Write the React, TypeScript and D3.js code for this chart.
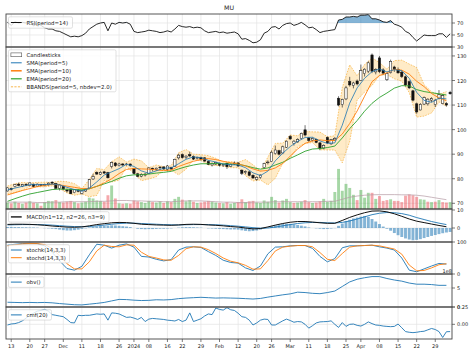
import React from "react";
import * as d3 from "d3";

// ---------------- data ----------------
const tickIdx = [1, 6, 10, 15, 20, 25, 30, 34, 38, 43, 47, 52, 57, 62, 67, 71, 76, 81, 86, 91, 95, 100, 105, 110, 115];
const tickLbl = ["13", "20", "27", "Dec", "11", "18", "26", "2024", "08", "16", "22", "29", "Feb", "12", "20", "26", "Mar", "11", "18", "25", "Apr", "08", "15", "22", "29"];

const opens = [75.0, 76.0, 76.8, 77.8, 77.0, 77.7, 77.2, 77.8, 77.0, 77.6, 77.2, 77.5, 78.6, 78.0, 76.0, 76.8, 75.4, 75.6, 74.3, 75.2,
  74.0, 75.0, 76.2, 79.9, 82.6, 81.8, 82.8, 82.5, 85.0, 86.4, 85.3, 86.0, 85.7, 86.0, 84.2, 82.0, 81.0, 81.5, 82.2, 84.3,
  83.8, 84.5, 84.8, 83.8, 84.5, 85.0, 88.5, 89.8, 88.6, 89.8, 89.0, 88.2, 88.6, 88.5, 87.0, 85.6, 86.0, 86.2, 85.3, 86.3,
  85.0, 86.0, 86.4, 83.5, 82.5, 82.8, 81.4, 79.8, 80.5, 84.5, 86.5, 87.0, 90.2, 91.4, 90.5, 92.8, 97.2, 94.3, 95.0, 96.3,
  99.9, 96.6, 95.7, 96.0, 94.6, 92.5, 96.8, 94.2, 95.8, 112.8, 110.2, 112.5, 119.6, 118.0, 119.8, 120.0, 122.8, 123.8, 130.4, 123.5,
  129.2, 124.3, 120.3, 123.2, 125.5, 124.4, 123.4, 121.5, 119.5, 115.8, 110.5, 108.0, 110.4, 110.5, 112.0, 110.2, 112.8, 110.6, 110.6, 115.2];
const highs = [76.5, 76.4, 77.9, 78.4, 77.9, 78.2, 78.5, 78.0, 78.1, 77.9, 78.0, 78.6, 79.0, 78.2, 77.8, 77.0, 76.0, 75.9, 75.8, 75.8,
  75.3, 76.0, 79.9, 82.0, 83.0, 83.0, 83.2, 82.8, 87.0, 86.8, 86.5, 86.4, 86.4, 86.2, 84.4, 82.4, 82.2, 82.3, 84.6, 84.5,
  84.6, 85.2, 85.0, 85.6, 84.9, 88.2, 90.2, 90.3, 89.6, 91.0, 89.5, 89.0, 89.0, 88.8, 87.5, 86.6, 86.9, 86.5, 86.0, 86.6,
  86.2, 87.0, 86.8, 83.8, 83.4, 83.0, 81.8, 81.0, 81.8, 86.5, 87.5, 91.5, 93.5, 91.8, 93.5, 95.6, 97.8, 95.8, 96.5, 98.8,
  101.8, 97.0, 96.8, 96.3, 94.9, 94.0, 97.2, 96.2, 97.0, 113.6, 112.6, 117.8, 121.5, 119.5, 120.4, 126.5, 125.0, 127.8, 131.0, 125.0,
  130.0, 125.0, 123.2, 128.5, 126.0, 125.3, 124.2, 122.0, 120.0, 116.2, 111.0, 110.8, 113.5, 112.8, 113.2, 112.5, 116.1, 114.5, 111.2, 115.8];
const lows = [74.8, 75.2, 76.5, 77.0, 76.6, 77.0, 77.0, 76.6, 76.8, 77.0, 76.9, 77.2, 77.9, 75.9, 75.2, 75.3, 74.4, 73.7, 74.1, 74.5,
  73.6, 74.6, 76.0, 79.5, 81.6, 81.5, 82.0, 80.1, 84.2, 84.8, 85.0, 85.2, 85.3, 84.8, 81.8, 80.6, 80.6, 80.9, 82.0, 83.0,
  83.2, 83.6, 83.6, 83.0, 83.4, 84.8, 87.8, 88.2, 88.0, 88.8, 87.6, 87.8, 87.4, 86.9, 85.6, 85.0, 85.5, 85.0, 84.8, 84.0,
  84.8, 85.6, 84.8, 81.5, 81.8, 81.0, 80.0, 79.2, 80.0, 84.0, 85.8, 86.8, 89.8, 89.5, 90.0, 92.5, 95.8, 93.5, 94.6, 96.0,
  97.2, 95.0, 95.2, 94.5, 91.6, 92.0, 94.2, 93.8, 95.4, 109.5, 109.0, 112.0, 117.5, 116.8, 118.0, 119.8, 121.6, 123.0, 123.0, 122.5,
  123.0, 122.2, 119.8, 122.8, 123.5, 122.8, 121.0, 117.6, 116.5, 111.5, 106.5, 107.8, 110.0, 109.8, 111.2, 109.2, 112.3, 110.3, 109.4, 114.2];
const closes = [76.3, 75.6, 77.6, 77.3, 77.6, 77.4, 78.3, 76.9, 77.8, 77.3, 77.6, 78.2, 78.2, 76.1, 77.5, 75.8, 75.0, 73.9, 75.6, 74.9,
  75.1, 75.8, 79.6, 80.9, 81.9, 82.6, 82.3, 80.4, 86.6, 85.3, 86.0, 85.6, 86.0, 85.3, 82.1, 81.0, 81.7, 81.9, 84.4, 83.9,
  84.3, 84.7, 84.0, 85.2, 84.0, 87.9, 89.6, 88.6, 89.2, 89.3, 88.0, 88.6, 87.9, 87.2, 85.8, 86.3, 86.7, 85.5, 85.7, 84.9,
  85.9, 86.4, 85.2, 82.2, 82.9, 81.4, 80.3, 80.6, 81.5, 86.2, 86.8, 90.8, 91.7, 90.0, 93.0, 95.3, 96.2, 95.3, 96.0, 98.5,
  97.8, 95.6, 96.4, 94.8, 92.4, 93.6, 94.6, 95.9, 96.4, 110.0, 112.3, 117.0, 118.2, 119.0, 118.6, 124.0, 124.6, 127.2, 123.8, 124.4,
  123.6, 123.0, 122.8, 127.8, 124.6, 123.1, 121.6, 118.2, 117.0, 112.0, 107.2, 110.3, 113.0, 112.4, 112.6, 112.0, 114.2, 113.8, 110.0, 114.6];
// volume, millions
const volumes = [16, 14, 18, 15, 13, 16, 19, 15, 14, 8, 17, 20, 19, 22, 17, 16, 18, 20, 17, 14,
  16, 18, 28, 26, 21, 20, 18, 34, 58, 26, 14, 13, 14, 13, 21, 19, 17, 15, 20, 17,
  16, 19, 15, 19, 17, 25, 30, 23, 19, 22, 18, 15, 16, 18, 20, 18, 16, 15, 14, 17,
  13, 15, 17, 24, 17, 19, 20, 16, 15, 21, 18, 30, 22, 16, 21, 25, 17, 15, 16, 18,
  22, 17, 15, 16, 19, 25, 18, 20, 42, 99, 45, 62, 52, 35, 22, 47, 28, 40, 40, 25,
  32, 20, 22, 24, 20, 20, 17, 33, 36, 34, 30, 24, 23, 18, 17, 18, 22, 17, 16, 17];

// the following series are sampled every 2 sessions (index 0,2,...,118)
const volMA = [17, 17, 17, 17, 16, 16, 17, 17, 18, 18, 18, 18, 19, 19, 20, 21, 21, 20, 20, 19, 19, 18, 18, 19, 20, 20, 20, 19, 18, 17,
  17, 16, 16, 17, 17, 17, 18, 18, 18, 18, 18, 18, 18, 19, 19, 24, 29, 32, 34, 35, 35.5, 35.5, 35.5, 35, 35, 34, 32, 29, 26, 23];
const sma5 = [75.4, 76.2, 76.9, 77.6, 77.6, 77.6, 77.8, 77.5, 76.5, 75.6, 74.9, 76.2, 78.7, 81.5, 82.8, 84.1, 85.9, 85.0, 83.2, 82.2,
  83.2, 84.3, 84.4, 86.1, 87.9, 88.9, 88.6, 87.5, 86.8, 86.0, 85.7, 85.6, 84.5, 82.4, 81.3, 83.1, 87.3, 90.4, 93.1, 95.2,
  96.8, 96.9, 95.4, 94.4, 94.6, 101.8, 110.8, 117.0, 120.9, 123.6, 124.7, 123.5, 124.4, 124.0, 120.9, 115.2, 111.9, 111.1, 112.8, 112.5];
const sma10 = [73.4, 74.3, 75.2, 76.0, 76.8, 77.3, 77.7, 77.5, 77.0, 76.5, 76.0, 75.9, 76.9, 78.3, 80.0, 82.1, 83.8, 84.2, 84.0, 83.9,
  83.6, 83.3, 83.5, 85.0, 86.1, 87.1, 87.8, 88.2, 87.8, 87.1, 86.5, 86.0, 85.2, 84.0, 83.1, 83.4, 84.4, 86.2, 89.2, 92.1,
  94.4, 95.4, 95.8, 95.5, 95.6, 98.2, 102.5, 107.6, 113.6, 119.5, 122.0, 123.1, 124.6, 124.2, 122.6, 119.7, 117.5, 114.7, 112.9, 111.8];
const ema20 = [70.8, 71.9, 72.9, 73.8, 74.4, 75.0, 75.6, 75.8, 75.7, 75.6, 75.5, 75.9, 76.9, 77.9, 78.9, 80.2, 81.2, 81.6, 81.6, 81.9,
  82.3, 82.6, 83.0, 84.0, 84.9, 85.6, 86.1, 86.1, 86.2, 86.1, 86.0, 85.9, 85.3, 84.5, 83.9, 84.4, 85.6, 86.7, 88.3, 89.7,
  91.2, 92.1, 92.3, 92.7, 93.3, 96.6, 100.4, 103.7, 107.5, 110.7, 113.1, 114.9, 116.9, 117.9, 117.8, 116.3, 115.5, 115.0, 114.6, 114.1];
const bbUpper = [77.0, 78.0, 78.5, 78.3, 78.5, 78.6, 78.5, 79.0, 78.8, 78.0, 76.0, 79.7, 84.2, 83.7, 86.9, 88.9, 86.8, 88.0, 87.3, 84.5,
  85.6, 84.9, 85.3, 90.6, 91.9, 90.0, 89.8, 89.4, 88.3, 86.9, 86.9, 86.7, 87.8, 85.7, 83.1, 88.8, 94.4, 94.5, 97.8, 97.5,
  99.2, 99.1, 99.0, 97.1, 97.5, 117.1, 126.4, 121.9, 126.5, 129.2, 127.3, 124.6, 128.1, 128.3, 126.7, 125.3, 118.3, 115.4, 114.3, 115.5];
const bbLower = [73.8, 74.4, 75.3, 76.9, 76.7, 76.7, 77.1, 76.0, 74.2, 73.3, 73.8, 72.7, 73.2, 79.3, 78.7, 79.4, 85.0, 82.1, 79.2, 79.9,
  80.8, 83.7, 83.5, 81.6, 83.9, 87.8, 87.4, 85.6, 85.4, 85.1, 84.5, 84.5, 81.2, 79.1, 79.5, 77.5, 80.2, 86.3, 88.4, 92.9,
  94.4, 94.7, 91.8, 91.7, 91.7, 86.5, 95.2, 112.1, 115.3, 118.0, 122.1, 122.4, 120.7, 119.7, 115.1, 105.1, 105.5, 106.8, 111.3, 109.5];
const macdLine = [2.0, 2.1, 2.1, 2.0, 1.8, 1.5, 1.1, 0.8, 0.5, 0.4, 0.6, 1.2, 1.9, 2.4, 2.9, 3.1, 3.0, 2.6, 2.1, 1.9,
  1.7, 1.6, 1.5, 1.7, 2.0, 2.1, 2.0, 1.7, 1.5, 1.2, 0.8, 0.5, 0.0, -0.5, -0.3, 0.6, 1.6, 2.5, 3.2, 3.6,
  3.6, 3.3, 2.9, 2.6, 2.6, 4.2, 5.9, 7.3, 8.5, 9.4, 9.5, 9.0, 7.9, 6.5, 5.0, 3.8, 3.0, 2.2, 1.4, 0.7];
const macdSignal = [1.7, 1.8, 1.9, 1.9, 1.9, 1.8, 1.6, 1.3, 1.0, 0.8, 0.7, 0.8, 1.2, 1.6, 2.1, 2.5, 2.7, 2.7, 2.5, 2.3,
  2.1, 1.9, 1.8, 1.7, 1.8, 1.9, 1.9, 1.9, 1.8, 1.6, 1.3, 1.0, 0.6, 0.2, -0.1, 0.0, 0.5, 1.2, 1.9, 2.5,
  2.9, 3.1, 3.1, 2.9, 2.8, 3.1, 3.9, 5.0, 6.2, 7.4, 8.2, 8.6, 8.5, 8.0, 7.1, 5.8, 4.7, 3.6, 2.7, 1.9];
const stochK = [90, 93, 95, 96, 95, 88, 68, 41, 17, 12, 24, 60, 93, 90, 81, 90, 94, 84, 55, 53,
  46, 41, 45, 75, 84, 85, 83, 70, 58, 43, 36, 34, 19, 11, 25, 63, 84, 85, 88, 89,
  89, 80, 55, 38, 48, 82, 88, 88, 89, 90, 85, 81, 75, 50, 12, 7, 16, 25, 33, 31];
const stochD = [88, 91, 94, 95, 95, 92, 80, 57, 32, 16, 16, 38, 72, 90, 86, 85, 91, 90, 68, 55,
  50, 44, 43, 58, 79, 85, 84, 76, 64, 50, 40, 35, 27, 15, 16, 42, 72, 84, 87, 89,
  89, 85, 67, 46, 42, 64, 84, 88, 89, 90, 88, 83, 78, 62, 28, 10, 11, 19, 29, 32];
// OBV in units of 1e8
const obv = [1.25, 1.2, 1.15, 1.2, 1.15, 1.2, 1.1, 0.9, 0.75, 0.6, 0.55, 0.75, 0.95, 1.2, 1.6, 2.0, 1.95, 1.8, 1.7, 1.75,
  1.9, 1.85, 1.95, 2.2, 2.35, 2.45, 2.55, 2.45, 2.35, 2.4, 2.35, 2.3, 2.2, 2.1, 2.25, 2.6, 2.9, 3.2, 3.45, 3.9,
  3.8, 3.6, 3.5, 3.8, 4.2, 5.4, 6.6, 7.3, 7.7, 8.0, 8.0, 7.5, 7.1, 6.8, 6.3, 6.0, 6.0, 5.9, 5.7, 5.7];

// per-session series
const rsi = [71, 66, 72, 70, 71, 70, 73, 65, 69, 66, 62, 60, 60, 57, 56, 53, 50, 47, 48, 47,
  49, 53, 60, 64, 68, 70, 71, 57, 70, 68, 71, 70, 71, 68, 56, 54, 55, 56, 58, 57,
  56, 54, 55, 57, 55, 60, 66, 64, 63, 64, 62, 63, 62, 57, 54, 55, 56, 54, 55, 53,
  54, 55, 52, 43, 44, 41, 37, 38, 42, 53, 56, 63, 64, 60, 66, 69, 70, 66, 68, 71,
  67, 62, 63, 59, 54, 56, 57, 58, 59, 75, 76, 80, 80, 81, 80, 83, 83, 84, 77, 77,
  75, 72, 71, 74, 68, 66, 63, 56, 53, 46, 40, 45, 50, 49, 49, 49, 52, 52, 46, 52];
const macdHist = [0.6, 0.6, 0.5, 0.5, 0.4, 0.4, 0.3, 0.3, 0.2, 0.0, -0.1, -0.2, -0.4,
  -0.6, -0.9, -1.2, -1.4, -1.4, -1.2, -0.9, -0.5, -0.2, 0.3,
  0.6, 0.9, 1.1, 1.2, 1.3, 1.5, 1.4, 1.2, 1.0, 0.8, 0.5,
  0.0, -0.4, -0.6, -0.7, -0.6, -0.6, -0.5, -0.4, -0.4, -0.3, -0.2,
  0.0, 0.2, 0.4, 0.5, 0.5, 0.4, 0.3, 0.2,
  0.0, -0.2, -0.3, -0.4, -0.5, -0.6, -0.7, -0.8, -0.8, -0.9,
  -1.3, -1.6, -1.8, -1.7, -1.4, -0.9, -0.4, 0.2,
  1.0, 1.5, 2.0, 2.3, 2.4, 2.3, 2.0, 1.7, 1.3, 0.9,
  0.3, 0.0, -0.2, -0.4, -0.6, -0.5, -0.3, -0.1,
  1.2, 2.5, 3.8, 4.6, 5.3, 5.8, 6.3, 6.7, 6.2, 5.0, 3.6, 2.2, 0.8,
  -0.4, -1.5, -2.8, -4.0, -5.0, -5.8, -6.4, -6.8, -6.6, -6.2, -5.6, -5.0, -4.4, -3.9, -3.4, -2.9, -2.5, -2.2];
const cmf = [-0.01, 0.005, 0.01, 0.025, 0.05, 0.09, 0.13, 0.16, 0.19, 0.2,
  0.215, 0.19, 0.14, 0.13, 0.12, 0.11, 0.07, 0.025, 0.02, 0.13,
  0.125, 0.13, 0.13, 0.14, 0.15, 0.145, 0.15, 0.06, 0.165, 0.16,
  0.15, 0.125, 0.1, 0.105, 0.09, 0.07, 0.1, 0.04, 0.075, 0.085,
  0.08, 0.075, 0.07, 0.06, 0.055, 0.048, 0.07, 0.04, 0.06, 0.165,
  0.04, 0.06, 0.08, 0.12, 0.15, 0.14, 0.235, 0.215, 0.205, 0.24,
  0.21, 0.2, 0.16, 0.11, 0.1, 0.06, -0.01, 0.02, 0.06, 0.075,
  0.07, -0.01, -0.01, 0.02, 0.05, 0.075, 0.055, 0.03, 0.04, 0.035,
  0.0, -0.055, -0.02, 0.02, 0.035, 0.038, 0.04, 0.05, 0.0, -0.045,
  0.025, -0.03, 0.0, 0.004, -0.015, -0.025, 0.0, 0.035, 0.01, -0.01,
  -0.015, -0.025, -0.03, -0.034, -0.03, 0.004, -0.05, -0.105, -0.115, -0.12,
  -0.115, -0.105, -0.1, -0.08, -0.06, -0.075, -0.105, -0.19, -0.107, -0.105];

// ---------------- layout ----------------
const X0 = 6;
const X1 = 452;
const PANELS: Record<string, [number, number]> = {
  rsi: [14, 47],
  main: [47, 209],
  macd: [209, 242],
  stoch: [242, 274],
  obv: [274, 307],
  cmf: [307, 339],
};
const FONT = "DejaVu Sans, Verdana, sans-serif";
const TICK_FS = 5;
const LEG_FS = 5.4;
const GRID = "#e4e4e4";
const SPINE = "#444";

type LegItem = { kind: "line" | "rect" | "dash"; color: string; label: string; cy: number; w?: number };

function Legend({ x, y, w, h, items }: { x: number; y: number; w: number; h: number; items: LegItem[] }) {
  return (
    <g>
      <rect x={x} y={y} width={w} height={h} rx={1.5} fill="#fff" fillOpacity={0.8} stroke="#cccccc" strokeWidth={0.6} />
      {items.map((it, k) => (
        <g key={k}>
          {it.kind === "rect" ? (
            <rect x={x + 2.4} y={it.cy - 1.9} width={10.8} height={3.8} fill="#fff" stroke="#555" strokeWidth={0.6} />
          ) : (
            <line
              x1={x + 2.4}
              x2={x + 13.2}
              y1={it.cy}
              y2={it.cy}
              stroke={it.color}
              strokeWidth={it.w ?? 1}
              strokeDasharray={it.kind === "dash" ? "2.2,1.3" : undefined}
            />
          )}
          <text x={x + 18} y={it.cy} dominantBaseline="central" fontSize={LEG_FS} fontFamily={FONT} fill="#222">
            {it.label}
          </text>
        </g>
      ))}
    </g>
  );
}

export default function App() {
  const x = d3.scaleLinear().domain([-0.4, 119.5]).range([X0, X1]);
  const step = x(1) - x(0);

  const yRsi = d3.scaleLinear().domain([30, 85]).range([47, 14]);
  const yMain = d3.scaleLinear().domain([67.68, 133.64]).range([209, 47]);
  const yVol = d3.scaleLinear().domain([0, 400]).range([209, 47]);
  const yMacd = d3.scaleLinear().domain([-7.78, 10.56]).range([242, 209]);
  const yStoch = d3.scaleLinear().domain([0, 100]).range([274, 242]);
  const yObv = d3.scaleLinear().domain([0, 8.68]).range([307, 274]);
  const yCmf = d3.scaleLinear().domain([-0.212, 0.25]).range([339, 307]);

  const path = (vals: number[], y: d3.ScaleLinear<number, number>, every: number) =>
    d3
      .line<number>()
      .x((_, k) => x(k * every))
      .y((v) => y(v))(vals) || "";

  const rsiArea =
    d3
      .area<number>()
      .x((_, k) => x(k))
      .y0(yRsi(70))
      .y1((v) => yRsi(v))(rsi) || "";

  const bbArea =
    d3
      .area<number>()
      .x((_, k) => x(k * 2))
      .y0((_, k) => yMain(bbLower[k]))
      .y1((v) => yMain(v))(bbUpper) || "";

  const yTicks: { key: string; scale: d3.ScaleLinear<number, number>; vals: number[]; fmt: (v: number) => string }[] = [
    { key: "rsi", scale: yRsi, vals: [30, 50, 70], fmt: (v) => String(v) },
    { key: "main", scale: yMain, vals: [70, 80, 90, 100, 110, 120, 130], fmt: (v) => String(v) },
    { key: "macd", scale: yMacd, vals: [0, 10], fmt: (v) => String(v) },
    { key: "stoch", scale: yStoch, vals: [0, 100], fmt: (v) => String(v) },
    { key: "obv", scale: yObv, vals: [0, 5], fmt: (v) => String(v) },
    { key: "cmf", scale: yCmf, vals: [0, 0.25], fmt: (v) => v.toFixed(2) },
  ];

  const candleW = step * 0.62;
  const volW = step * 0.78;

  return (
    <svg
      width={474}
      height={355}
      viewBox="0 0 474 355"
      style={{ position: "absolute", left: 0, top: 0, display: "block", background: "#fff" }}
    >
      <defs>
        {Object.entries(PANELS).map(([k, [t, b]]) => (
          <clipPath id={`clip-${k}`} key={k}>
            <rect x={X0} y={t} width={X1 - X0} height={b - t} />
          </clipPath>
        ))}
        <clipPath id="clip-rsi-hi">
          <rect x={X0} y={14} width={X1 - X0} height={yRsi(70) - 14} />
        </clipPath>
      </defs>
      <rect x={0} y={0} width={474} height={355} fill="#fff" />

      {/* title */}
      <text x={(X0 + X1) / 2} y={10.3} textAnchor="middle" fontSize={6.3} fontFamily={FONT} fill="#222">
        MU
      </text>

      {/* vertical grid */}
      {tickIdx.map((t, k) => (
        <line key={`vg${k}`} x1={x(t)} x2={x(t)} y1={14} y2={339} stroke={GRID} strokeWidth={0.7} />
      ))}
      {/* horizontal grid */}
      {yTicks.map((p) =>
        p.vals.map((v) => (
          <line key={`hg${p.key}${v}`} x1={X0} x2={X1} y1={p.scale(v)} y2={p.scale(v)} stroke={GRID} strokeWidth={0.7} />
        ))
      )}

      {/* RSI */}
      <g clipPath="url(#clip-rsi)">
        <path d={rsiArea} clipPath="url(#clip-rsi-hi)" fill="#1f77b4" fillOpacity={0.55} />
        <path d={path(rsi, yRsi, 1)} fill="none" stroke="#111" strokeWidth={0.9} />
      </g>

      {/* main: volume */}
      <g clipPath="url(#clip-main)">
        {volumes.map((v, i) => {
          const up = i === 0 ? closes[0] >= opens[0] : closes[i] >= closes[i - 1];
          return (
            <rect
              key={`v${i}`}
              x={x(i) - volW / 2}
              y={yVol(v)}
              width={volW}
              height={yVol(0) - yVol(v)}
              fill={up ? "#2ca02c" : "#e8303a"}
              fillOpacity={0.42}
            />
          );
        })}
        <path d={path(volMA, yVol, 2)} fill="none" stroke="#b59aa3" strokeWidth={0.7} />

        {/* bollinger */}
        <path d={bbArea} fill="#ffa500" fillOpacity={0.22} />
        <path d={path(bbUpper, yMain, 2)} fill="none" stroke="#f5a623" strokeWidth={0.6} strokeDasharray="1.6,1.2" />
        <path d={path(bbLower, yMain, 2)} fill="none" stroke="#f5a623" strokeWidth={0.6} strokeDasharray="1.6,1.2" />

        {/* candles */}
        {closes.map((c, i) => {
          const o = opens[i];
          const up = c >= o;
          const top = yMain(Math.max(o, c));
          const bot = yMain(Math.min(o, c));
          return (
            <g key={`c${i}`}>
              <line x1={x(i)} x2={x(i)} y1={yMain(highs[i])} y2={yMain(lows[i])} stroke="#111" strokeWidth={0.6} />
              <rect
                x={x(i) - candleW / 2}
                y={top}
                width={candleW}
                height={Math.max(0.6, bot - top)}
                fill={up ? "#fff" : "#111"}
                stroke="#111"
                strokeWidth={0.5}
              />
            </g>
          );
        })}

        <path d={path(ema20, yMain, 2)} fill="none" stroke="#2ca02c" strokeWidth={0.9} />
        <path d={path(sma10, yMain, 2)} fill="none" stroke="#ff7f0e" strokeWidth={0.9} />
        <path d={path(sma5, yMain, 2)} fill="none" stroke="#1f77b4" strokeWidth={0.8} />
      </g>

      {/* MACD */}
      <g clipPath="url(#clip-macd)">
        {macdHist.map((v, i) => (
          <rect
            key={`h${i}`}
            x={x(i) - volW / 2}
            y={Math.min(yMacd(v), yMacd(0))}
            width={volW}
            height={Math.abs(yMacd(v) - yMacd(0))}
            fill="#1f77b4"
            fillOpacity={0.55}
          />
        ))}
        <path d={path(macdSignal, yMacd, 2)} fill="none" stroke="#1f77b4" strokeWidth={0.9} />
        <path d={path(macdLine, yMacd, 2)} fill="none" stroke="#111" strokeWidth={1} />
      </g>

      {/* Stochastic */}
      <g clipPath="url(#clip-stoch)">
        <path d={path(stochK, yStoch, 2)} fill="none" stroke="#1f77b4" strokeWidth={0.9} />
        <path d={path(stochD, yStoch, 2)} fill="none" stroke="#ff7f0e" strokeWidth={0.9} />
      </g>

      {/* OBV */}
      <g clipPath="url(#clip-obv)">
        <path d={path(obv, yObv, 2)} fill="none" stroke="#1f77b4" strokeWidth={0.9} />
      </g>

      {/* CMF */}
      <g clipPath="url(#clip-cmf)">
        <path d={path(cmf, yCmf, 1)} fill="none" stroke="#1f77b4" strokeWidth={0.9} />
      </g>

      {/* spines */}
      {Object.entries(PANELS).map(([k, [t, b]]) => (
        <rect key={`sp${k}`} x={X0} y={t} width={X1 - X0} height={b - t} fill="none" stroke={SPINE} strokeWidth={0.9} />
      ))}

      {/* right y ticks */}
      {yTicks.map((p) =>
        p.vals.map((v) => (
          <g key={`yt${p.key}${v}`}>
            <line x1={X1} x2={X1 + 3} y1={p.scale(v)} y2={p.scale(v)} stroke={SPINE} strokeWidth={0.7} />
            <text
              x={X1 + 5}
              y={p.scale(v)}
              dominantBaseline="central"
              fontSize={TICK_FS}
              fontFamily={FONT}
              fill="#222"
            >
              {p.fmt(v)}
            </text>
          </g>
        ))
      )}
      <text x={X1} y={272.5} textAnchor="end" fontSize={TICK_FS} fontFamily={FONT} fill="#222">
        1e8
      </text>

      {/* x ticks */}
      {tickIdx.map((t, k) => (
        <g key={`xt${k}`}>
          <line x1={x(t)} x2={x(t)} y1={339} y2={342} stroke={SPINE} strokeWidth={0.7} />
          <text x={x(t)} y={346.2} textAnchor="middle" dominantBaseline="central" fontSize={TICK_FS} fontFamily={FONT} fill="#222">
            {tickLbl[k]}
          </text>
        </g>
      ))}

      {/* legends */}
      <Legend x={8.5} y={16.8} w={64} h={11.4} items={[{ kind: "line", color: "#111", label: "RSI(period=14)", cy: 22.5 }]} />
      <Legend
        x={8.5}
        y={49.8}
        w={107.5}
        h={42}
        items={[
          { kind: "rect", color: "#555", label: "Candlesticks", cy: 54.8 },
          { kind: "line", color: "#1f77b4", label: "SMA(period=5)", cy: 62.8 },
          { kind: "line", color: "#ff7f0e", label: "SMA(period=10)", cy: 70.8, w: 1.5 },
          { kind: "line", color: "#2ca02c", label: "EMA(period=20)", cy: 78.8, w: 1.2 },
          { kind: "dash", color: "#f5a623", label: "BBANDS(period=5, nbdev=2.0)", cy: 86.8, w: 0.8 },
        ]}
      />
      <Legend
        x={8.5}
        y={211.7}
        w={100.5}
        h={10.4}
        items={[{ kind: "line", color: "#333", label: "MACD(n1=12, n2=26, n3=9)", cy: 216.9, w: 1.6 }]}
      />
      <Legend
        x={8.5}
        y={244.7}
        w={61}
        h={18.2}
        items={[
          { kind: "line", color: "#1f77b4", label: "stochk(14,3,3)", cy: 250, w: 1 },
          { kind: "line", color: "#ff7f0e", label: "stochd(14,3,3)", cy: 257.7, w: 1 },
        ]}
      />
      <Legend x={8.5} y={276.8} w={35.5} h={10.6} items={[{ kind: "line", color: "#1f77b4", label: "obv()", cy: 282.1 }]} />
      <Legend x={8.5} y={309.7} w={43} h={10.4} items={[{ kind: "line", color: "#1f77b4", label: "cmf(20)", cy: 314.9 }]} />
    </svg>
  );
}
